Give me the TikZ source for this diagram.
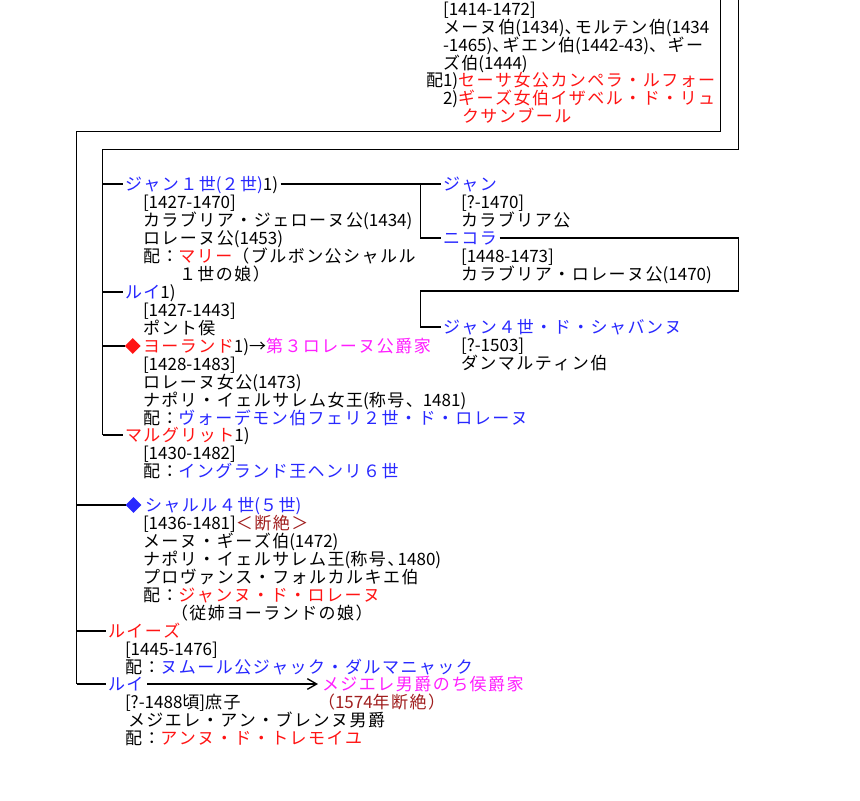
\documentclass[tikz,border=0pt]{standalone}
\usepackage{fontspec}
\setmainfont{Noto Sans CJK JP}
\usetikzlibrary{arrows.meta,shapes.geometric}
\makeatletter
\newXeTeXintercharclass\jcls
\def\jsetrange#1#2{\count@=#1\relax
  \loop\XeTeXcharclass\count@=\jcls\relax
  \ifnum\count@<#2\advance\count@\@ne\repeat}
\jsetrange{"3000}{"30FF}
\jsetrange{"4E00}{"9FFF}
\jsetrange{"FF00}{"FFEF}
\makeatother
\XeTeXinterchartoks\jcls\jcls={\kern1.1pt}
\XeTeXinterchartokenstate=1
\newcommand\nrwcomma{、\kern-5pt\relax}
\definecolor{nblue}{RGB}{40,40,255}
\definecolor{nred}{RGB}{255,20,20}
\definecolor{nmag}{RGB}{255,30,255}
\definecolor{ndred}{RGB}{160,30,30}
\tikzset{
  tx/.style={anchor=west, inner sep=0pt, outer sep=0pt, text height=11pt, text depth=1.6pt,
    font=\fontsize{12.75pt}{14pt}\selectfont, text=black},
  ln/.style={line width=1pt, draw=black},
  br/.style={ln, shorten >=1.5pt},
  dia/.style={diamond, aspect=1, inner sep=0pt, outer sep=0pt, minimum size=11.8pt}
}
\begin{document}
\begin{tikzpicture}[x=0.75pt,y=-0.75pt]
\useasboundingbox (0,0) rectangle (860,800);
\fill[white] (0,0) rectangle (860,800);
% top block
\node[tx] (top1) at (443,9) {[1414-1472]};
\node[tx] (top2) at (443,27) {メーヌ伯(1434)\nrwcomma モルテン伯(1434};
\node[tx] (top3) at (443,45) {-1465)\nrwcomma ギエン伯(1442-43)、ギー};
\node[tx] (top4) at (443,63) {ズ伯(1444)};
\node[tx] (top5) at (426,80) {配1)\textcolor{nred}{セーサ女公カンペラ・ルフォー}};
\node[tx] (top6) at (443,98) {2)\textcolor{nred}{ギーズ女伯イザベル・ド・リュ}};
\node[tx] (top7) at (462,116) {\textcolor{nred}{クサンブール}};
% Jean I
\node[tx] (jean1) at (125,184) {\textcolor{nblue}{ジャン１世(２世)}1)};
\node[tx] (j1a) at (143,202) {[1427-1470]};
\node[tx] (j1b) at (143,220) {カラブリア・ジェローヌ公(1434)};
\node[tx] (j1c) at (143,238) {ロレーヌ公(1453)};
\node[tx] (j1d) at (143,256) {配：\textcolor{nred}{マリー}（ブルボン公シャルル};
\node[tx] (j1e) at (179,274) {１世の娘）};
% Louis
\node[tx] (louis1) at (125,292) {\textcolor{nblue}{ルイ}1)};
\node[tx] (l1a) at (143,310) {[1427-1443]};
\node[tx] (l1b) at (143,328) {ポント侯};
% Yolande
\node[dia, fill=nred] (diaY) at (132.8,346) {};
\node[tx] (yol) at (143,346) {\textcolor{nred}{ヨーランド}1)→\textcolor{nmag}{第３ロレーヌ公爵家}};
\node[tx] (ya) at (143,364) {[1428-1483]};
\node[tx] (yb) at (143,382) {ロレーヌ女公(1473)};
\node[tx] (yc) at (143,400) {ナポリ・イェルサレム女王(称号、1481)};
\node[tx] (yd) at (143,418) {配：\textcolor{nblue}{ヴォーデモン伯フェリ２世・ド・ロレーヌ}};
% Marguerite
\node[tx] (marg) at (125,435) {\textcolor{nred}{マルグリット}1)};
\node[tx] (ma) at (143,453) {[1430-1482]};
\node[tx] (mb) at (143,471) {配：\textcolor{nblue}{イングランド王ヘンリ６世}};
% Charles IV
\node[dia, fill=nblue] (diaC) at (133.5,505) {};
\node[tx] (charl) at (145,505) {\textcolor{nblue}{シャルル４世(５世)}};
\node[tx] (ca) at (143,523) {[1436-1481]\textcolor{ndred}{＜断絶＞}};
\node[tx] (cb) at (143,541) {メーヌ・ギーズ伯(1472)};
\node[tx] (cc) at (143,559) {ナポリ・イェルサレム王(称号\nrwcomma 1480)};
\node[tx] (cd) at (143,577) {プロヴァンス・フォルカルキエ伯};
\node[tx] (ce) at (143,595) {配：\textcolor{nred}{ジャンヌ・ド・ロレーヌ}};
\node[tx] (cf) at (171,613) {（従姉ヨーランドの娘）};
% Louise
\node[tx] (louise) at (108,631) {\textcolor{nred}{ルイーズ}};
\node[tx] (lsa) at (125,649) {[1445-1476]};
\node[tx] (lsb) at (125,667) {配：\textcolor{nblue}{ヌムール公ジャック・ダルマニャック}};
% Louis (bastard)
\node[tx] (louisB) at (108,684) {\textcolor{nblue}{ルイ}};
\node[tx] (lba) at (125,702) {[?-1488頃]庶子};
\node[tx] (lbb) at (128,720) {メジエレ・アン・ブレンヌ男爵};
\node[tx] (lbc) at (125,738) {配：\textcolor{nred}{アンヌ・ド・トレモイユ}};
\node[tx] (mezN) at (322,684) {\textcolor{nmag}{メジエレ男爵のち侯爵家}};
\node[tx] (mezE) at (318,702) {\textcolor{ndred}{（1574年断絶）}};
% right column
\node[tx] (jeanS) at (443,184) {\textcolor{nblue}{ジャン}};
\node[tx] (jsa) at (461,202) {[?-1470]};
\node[tx] (jsb) at (461,220) {カラブリア公};
\node[tx] (nico) at (443,238) {\textcolor{nblue}{ニコラ}};
\node[tx] (na) at (461,256) {[1448-1473]};
\node[tx] (nb) at (461,274) {カラブリア・ロレーヌ公(1470)};
\node[tx] (jean4) at (443,327) {\textcolor{nblue}{ジャン４世・ド・シャバンヌ}};
\node[tx] (j4a) at (461,345) {[?-1503]};
\node[tx] (j4b) at (461,363) {ダンマルティン伯};
% coordinates
\coordinate (tA) at (720.7,0);
\coordinate (tB) at (738.3,0);
\coordinate (cA1) at (720.7,131.7);
\coordinate (cA2) at (76.7,131.7);
\coordinate (cB1) at (738.3,149.3);
\coordinate (cB2) at (102.7,149.3);
\coordinate (cJ) at (420.7,184);
\coordinate (cN) at (738.3,291);
% trunks
\draw[ln] (tA) -- (cA1) -- (cA2) -- (cA2 |- louisB.west);
\draw[ln] (tB) -- (cB1) -- (cB2) -- (cB2 |- marg.west);
% branches
\draw[br] (cB2 |- jean1.west) -- (jean1.west);
\draw[br] (cB2 |- louis1.west) -- (louis1.west);
\draw[ln] (cB2 |- diaY.west) -- (diaY.west);
\draw[br] (cB2 |- marg.west) -- (marg.west);
\draw[ln] (cA2 |- diaC.west) -- (diaC.west);
\draw[br] (cA2 |- louise.west) -- (louise.west);
\draw[br] (cA2 |- louisB.west) -- (louisB.west);
% Jean I's sons
\draw[ln, shorten <=2pt, shorten >=1.5pt] (jean1.east) -- (jeanS.west);
\draw[br] (cJ) |- (nico.west);
\draw[ln, shorten <=2pt, shorten >=1.5pt] (nico.east) -| (cN) -- (cN -| cJ) |- (jean4.west);
% Louis arrow
\draw[ln, -{Straight Barb[length=7pt,width=8pt]}, shorten <=3pt, shorten >=3pt] (louisB.east) -- (mezN.west);
\end{tikzpicture}
\end{document}
